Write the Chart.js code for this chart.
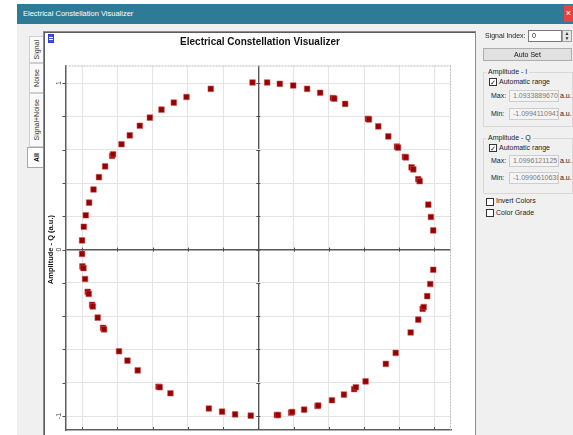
<!DOCTYPE html>
<html>
<head>
<meta charset="utf-8">
<title>Electrical Constellation Visualizer</title>
<script src="https://cdn.jsdelivr.net/npm/chart.js@4/dist/chart.umd.min.js"></script>
<style>
  html, body { margin: 0; padding: 0; width: 573px; height: 435px; overflow: hidden; background: #fff;
    font-family: "Liberation Sans", Arial, sans-serif; }
  .abs { position: absolute; box-sizing: border-box; }
  #win { left: 17px; top: 4px; width: 556px; height: 431px; background: #f0f0f0; }
  #titlebar { left: 17px; top: 4px; width: 556px; height: 20px; background: #2e7b97; color: #fff;
    font-size: 7.5px; line-height: 20px; padding-left: 6px; }
  #close { left: 564px; top: 5px; width: 9px; height: 17px; background: #e0463e; color: #fff;
    font-size: 9px; line-height: 16px; text-align: center; overflow: hidden; }
  .tab { left: 29px; width: 14px; background: #fafafa; border: 1px solid #cfcfcf; border-right: none;
    display: flex; align-items: center; justify-content: center; }
  .tab span { writing-mode: vertical-rl; transform: rotate(180deg); font-size: 7px; color: #333; white-space: nowrap; }
  .tab.sel { left: 27px; width: 17px; background: #fff; border-color: #a8a8a8; }
  .tab.sel span { color: #000; font-weight: bold; }
  #panel { left: 43px; top: 31px; width: 433px; height: 420px; background: #fff;
    border: 1px solid #8c8c8c; box-shadow: inset 1px 1px 0 #5c5c5c; }
  #plot { left: 46px; top: 33px; }
  #icon { left: 48px; top: 34px; width: 6px; height: 9px; border: 1px solid #2b3fd0;
    background: linear-gradient(#3a52e0 0 30%, #fff 30% 45%, #3a52e0 45% 60%, #fff 60% 75%, #3a52e0 75%); }
  #ptitle { left: 46px; top: 35px; width: 428px; height: 13px; line-height: 13px; text-align: center;
    font-weight: bold; font-size: 10px; color: #111; }
  .lbl { font-size: 7px; color: #222; white-space: nowrap; line-height: 10px; }
  .box { background: #fff; border: 1px solid #7a7a7a; font-size: 7px; line-height: 10px; padding-left: 3px; color: #111; }
  .dis { background: #f4f4f4; border: 1px solid #cccccc; color: #7a7a7a; overflow: hidden; white-space: nowrap; }
  .btn { background: #e1e1e1; border: 1px solid #adadad; font-size: 7px; text-align: center; line-height: 11px; color: #111; }
  .grp { border: 1px solid #d8d8d8; }
  .gtitle { background: #f0f0f0; padding: 0 2px; font-size: 7px; line-height: 9px; color: #222; }
  .chk { width: 8px; height: 8px; background: #fff; border: 1px solid #333; font-size: 7px; line-height: 7px; text-align: center; color: #111; }
</style>
</head>
<body>
<div id="win" class="abs"></div>
<div id="titlebar" class="abs">Electrical Constellation Visualizer</div>
<div id="close" class="abs">×</div>

<div class="abs tab" style="top:36px;height:27px;"><span>Signal</span></div>
<div class="abs tab" style="top:63px;height:30px;"><span>Noise</span></div>
<div class="abs tab" style="top:93px;height:54px;"><span>Signal+Noise</span></div>
<div class="abs tab sel" style="top:147px;height:21px;"><span>All</span></div>

<div id="panel" class="abs"></div>
<canvas id="plot" class="abs" width="428" height="402"></canvas>
<div id="icon" class="abs"></div>
<div id="ptitle" class="abs">Electrical Constellation Visualizer</div>

<!-- right side controls -->
<div class="abs lbl" style="left:485px;top:31px;">Signal Index:</div>
<div class="abs box" style="left:528px;top:30px;width:34px;height:12px;">0</div>
<div class="abs" style="left:562px;top:30px;width:10px;height:12px;background:#e6e6e6;border:1px solid #a0a0a0;font-size:5px;line-height:5px;text-align:center;color:#333;">▲<br>▼</div>
<div class="abs btn" style="left:483px;top:48px;width:89px;height:13px;">Auto Set</div>

<div class="abs grp" style="left:483px;top:72px;width:90px;height:55px;"></div>
<div class="abs gtitle" style="left:486px;top:67px;">Amplitude - I</div>
<div class="abs chk" style="left:489px;top:78px;">✓</div>
<div class="abs lbl" style="left:499px;top:77px;">Automatic range</div>
<div class="abs lbl" style="left:491px;top:91px;">Max:</div>
<div class="abs box dis" style="left:509px;top:90px;width:50px;height:12px;">1.0933889670</div>
<div class="abs lbl" style="left:560px;top:91px;">a.u.</div>
<div class="abs lbl" style="left:491px;top:109px;">Min:</div>
<div class="abs box dis" style="left:509px;top:108px;width:50px;height:12px;">-1.0994110941</div>
<div class="abs lbl" style="left:560px;top:109px;">a.u.</div>

<div class="abs grp" style="left:483px;top:138px;width:90px;height:56px;"></div>
<div class="abs gtitle" style="left:486px;top:133px;">Amplitude - Q</div>
<div class="abs chk" style="left:489px;top:144px;">✓</div>
<div class="abs lbl" style="left:499px;top:143px;">Automatic range</div>
<div class="abs lbl" style="left:491px;top:156px;">Max:</div>
<div class="abs box dis" style="left:509px;top:155px;width:50px;height:12px;">1.0996121125</div>
<div class="abs lbl" style="left:560px;top:156px;">a.u.</div>
<div class="abs lbl" style="left:491px;top:173px;">Min:</div>
<div class="abs box dis" style="left:509px;top:172px;width:50px;height:12px;">-1.0990610638</div>
<div class="abs lbl" style="left:560px;top:173px;">a.u.</div>

<div class="abs chk" style="left:486px;top:198px;"></div>
<div class="abs lbl" style="left:496px;top:196px;">Invert Colors</div>
<div class="abs chk" style="left:486px;top:209px;"></div>
<div class="abs lbl" style="left:496px;top:208px;">Color Grade</div>

<script>
// Received symbols, amplitude I (in-phase) and Q (quadrature), arbitrary units
const iValues = [
  -0.033, -0.270, -0.408, -0.480, -0.550, -0.616, -0.673, -0.730, -0.777, -0.830, -0.825,
  -0.870, -0.905, -0.936, -0.961, -0.980, -0.991, -1.001, -1.001, -0.999, -0.993, -0.984,
  -0.969, -0.963, -0.944, -0.940, -0.912, -0.882, -0.876, -0.791, -0.743, -0.685, -0.567,
  -0.560, -0.499, -0.281, -0.206, -0.132, -0.043, 0.105, 0.112, 0.186, 0.192, 0.260,
  0.336, 0.340, 0.418, 0.486, 0.544, 0.554, 0.609, 0.724, 0.780, 0.865, 0.908,
  0.933, 0.939, 0.959, 0.976, 0.993, 0.993, 0.980, 0.965, 0.908, 0.916, 0.870,
  0.880, 0.832, 0.838, 0.787, 0.793, 0.738, 0.681, 0.622, 0.628, 0.493, 0.423,
  0.431, 0.351, 0.277, 0.198, 0.122, 0.050
];
const qValues = [
  1.004, 0.966, 0.917, 0.883, 0.841, 0.793, 0.744, 0.686, 0.633, 0.563, 0.573,
  0.500, 0.435, 0.361, 0.282, 0.206, 0.137, 0.055, -0.026, -0.101, -0.111, -0.177,
  -0.254, -0.266, -0.332, -0.342, -0.409, -0.470, -0.479, -0.611, -0.667, -0.726, -0.824,
  -0.827, -0.863, -0.955, -0.974, -0.990, -0.998, -0.994, -0.994, -0.980, -0.976, -0.962,
  -0.940, -0.937, -0.905, -0.871, -0.838, -0.827, -0.792, -0.687, -0.621, -0.498, -0.421,
  -0.356, -0.345, -0.280, -0.207, -0.121, 0.115, 0.196, 0.270, 0.423, 0.411, 0.494,
  0.482, 0.557, 0.554, 0.619, 0.613, 0.680, 0.740, 0.786, 0.782, 0.875, 0.911,
  0.907, 0.942, 0.966, 0.986, 0.996, 1.004
];

// Grid divisions and labelled ticks
const gridSteps = [-1, -0.8, -0.6, -0.4, -0.2, 0, 0.2, 0.4, 0.6, 0.8, 1];
const qTickValues = [-1, 0, 1];
const qTickLabels = ['-1', '0', '1'];
const qAxisTitle = 'Amplitude - Q (a.u.)';

// Visible range of the plot
const iRange = [-1.095, 1.094];
const qRange = [-1.084, 1.106];

const points = iValues.map((v, k) => ({ x: v, y: qValues[k] }));

// Axis decorations: dashed outer edges, tick marks, rotated Q labels and title
const frameDecor = {
  id: 'frameDecor',
  beforeDatasetsDraw(chart) {
    const { ctx, chartArea: a, scales: { x, y } } = chart;
    ctx.save();
    ctx.strokeStyle = '#b9b9b9';
    ctx.lineWidth = 1;
    ctx.setLineDash([2, 1]);
    ctx.beginPath();
    ctx.moveTo(a.left, a.top + 0.5); ctx.lineTo(a.right, a.top + 0.5);
    ctx.moveTo(a.right - 0.5, a.top); ctx.lineTo(a.right - 0.5, a.bottom);
    ctx.stroke();
    ctx.setLineDash([]);

    const x0 = x.getPixelForValue(0);
    const y0 = y.getPixelForValue(0);
    ctx.strokeStyle = '#4d4d4d';
    ctx.beginPath();
    gridSteps.forEach(v => {
      const py = Math.round(y.getPixelForValue(v)) + 0.5;
      ctx.moveTo(a.left - 3, py); ctx.lineTo(a.left, py);
      ctx.moveTo(x0 - 2, py); ctx.lineTo(x0 + 2, py);
      const px = Math.round(x.getPixelForValue(v)) + 0.5;
      ctx.moveTo(px, y0 - 2); ctx.lineTo(px, y0 + 2);
      ctx.moveTo(px, a.bottom - 3); ctx.lineTo(px, a.bottom);
    });
    ctx.stroke();

    ctx.fillStyle = '#444';
    ctx.font = '7px "Liberation Sans", Arial, sans-serif';
    ctx.textAlign = 'center';
    ctx.textBaseline = 'middle';
    qTickValues.forEach((v, k) => {
      ctx.save();
      ctx.translate(a.left - 6.5, y.getPixelForValue(v));
      ctx.rotate(-Math.PI / 2);
      ctx.fillText(qTickLabels[k], 0, 0);
      ctx.restore();
    });

    ctx.fillStyle = '#111';
    ctx.font = 'bold 7.5px "Liberation Sans", Arial, sans-serif';
    ctx.save();
    ctx.translate(a.left - 15, y0);
    ctx.rotate(-Math.PI / 2);
    ctx.fillText(qAxisTitle, 0, 0);
    ctx.restore();
    ctx.restore();
  }
};

const gridColor = c => (c.tick && c.tick.value === 0) ? '#575757' : '#e4e4e4';
const gridWidth = c => (c.tick && c.tick.value === 0) ? 1.4 : 1;

new Chart(document.getElementById('plot'), {
  type: 'scatter',
  data: {
    datasets: [
      {
        data: points,
        pointStyle: 'rect',
        pointRadius: 4,
        backgroundColor: '#980000',
        borderColor: 'rgba(200, 90, 90, 0.55)',
        borderWidth: 1
      },
      {
        data: points,
        pointStyle: 'crossRot',
        pointRadius: 1.2,
        borderColor: '#2b2b9c',
        borderWidth: 0.8
      }
    ]
  },
  options: {
    responsive: false,
    animation: false,
    events: [],
    layout: { padding: { left: 19.5, top: 32.5, right: 23, bottom: 1.7 } },
    plugins: { legend: { display: false }, tooltip: { enabled: false }, title: { display: false } },
    scales: {
      x: {
        type: 'linear', min: iRange[0], max: iRange[1],
        afterBuildTicks: s => { s.ticks = gridSteps.map(v => ({ value: v })); },
        ticks: { display: false },
        grid: { drawTicks: false, color: gridColor, lineWidth: gridWidth },
        border: { display: true, color: '#5e5e5e', width: 1.5 }
      },
      y: {
        type: 'linear', min: qRange[0], max: qRange[1],
        afterBuildTicks: s => { s.ticks = gridSteps.map(v => ({ value: v })); },
        ticks: { display: false },
        grid: { drawTicks: false, color: gridColor, lineWidth: gridWidth },
        border: { display: true, color: '#5e5e5e', width: 1.5 }
      }
    }
  },
  plugins: [frameDecor]
});
</script>
</body>
</html>
